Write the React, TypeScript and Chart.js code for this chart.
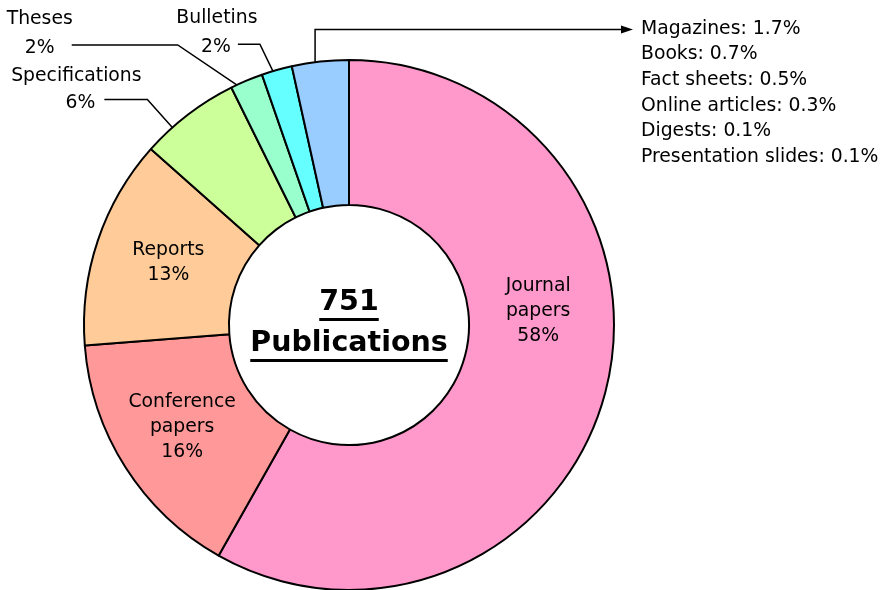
import React, { useEffect, useRef } from "react";
import { Chart, registerables } from "chart.js";

Chart.register(...registerables);

// ---- Data ----
const categories = ["Journal papers", "Conference papers", "Reports", "Specifications", "Theses", "Bulletins", "Other"];
const counts = [437, 117, 96, 46, 15, 14, 26];
const sliceColors = ["#FF99CC", "#FF9999", "#FFCC99", "#CCFF99", "#99FFCC", "#66FFFF", "#99CCFF"];
const otherCategories = ["Magazines", "Books", "Fact sheets", "Online articles", "Digests", "Presentation slides"];
const otherPercents = [1.7, 0.7, 0.5, 0.3, 0.1, 0.1];
const totalText = "751";
const centerTitle = "Publications";

// ---- Label layout (annotation placement, not data) ----
const FONT = '"DejaVu Sans", sans-serif';
const insideLabels = [
  { index: 0, lines: ["Journal", "papers"], frac: 0.41, rf: 0.48 },
  { index: 1, lines: ["Conference", "papers"], frac: 0.52, rf: 0.52 },
  { index: 2, lines: ["Reports"], frac: 0.51, rf: 0.49 },
];
const callouts = [
  { index: 3, name: "Specifications", frac: 0.3, elbow: [-25, -28], hLen: 43, nameOff: [-71, -23], pctOff: [-67, 4] },
  { index: 4, name: "Theses", frac: 0.18, elbow: [-59, -40], hLen: 106, nameOff: [-138, -26], pctOff: [-138, 3] },
  { index: 5, name: "Bulletins", frac: 0.37, elbow: [-13, -27], hLen: 22, nameOff: [-43, -26], pctOff: [-44, 3] },
];
const otherCallout = { index: 6, frac: 0.41, topY: 29.5, arrowX: 633, textX: 641, textY: 29, lineH: 25.6 };

const total = counts.reduce((a, b) => a + b, 0);
const pctOf = (i: number) => Math.round((counts[i] / total) * 100);

const labelPlugin = {
  id: "pubLabels",
  afterDatasetsDraw(chart: any) {
    const ctx = chart.ctx as CanvasRenderingContext2D;
    const arcs = chart.getDatasetMeta(0).data as any[];
    const at = (arc: any, frac: number, r: number) => {
      const a = arc.startAngle + frac * (arc.endAngle - arc.startAngle);
      return [arc.x + Math.cos(a) * r, arc.y + Math.sin(a) * r];
    };
    ctx.save();
    ctx.fillStyle = "#000";
    ctx.strokeStyle = "#000";
    ctx.textAlign = "center";
    ctx.textBaseline = "middle";
    ctx.font = `18.8px ${FONT}`;

    // inside labels
    for (const l of insideLabels) {
      const arc = arcs[l.index];
      const r = arc.innerRadius + l.rf * (arc.outerRadius - arc.innerRadius);
      const [px, py] = at(arc, l.frac, r);
      const lines = [...l.lines, `${pctOf(l.index)}%`];
      const lh = 25;
      const y0 = py - ((lines.length - 1) * lh) / 2;
      lines.forEach((t, k) => ctx.fillText(t, px, y0 + k * lh));
    }

    // callouts with leader lines
    ctx.lineWidth = 1.5;
    for (const c of callouts) {
      const arc = arcs[c.index];
      const [ax, ay] = at(arc, c.frac, arc.outerRadius);
      const ex = ax + c.elbow[0];
      const ey = ay + c.elbow[1];
      ctx.beginPath();
      ctx.moveTo(ax, ay);
      ctx.lineTo(ex, ey);
      ctx.lineTo(ex - c.hLen, ey);
      ctx.stroke();
      ctx.fillText(c.name, ex + c.nameOff[0], ey + c.nameOff[1]);
      ctx.fillText(`${pctOf(c.index)}%`, ex + c.pctOff[0], ey + c.pctOff[1]);
    }

    // "Other" callout with arrow and breakdown list
    {
      const arc = arcs[otherCallout.index];
      const [ax, ay] = at(arc, otherCallout.frac, arc.outerRadius);
      ctx.beginPath();
      ctx.moveTo(ax, ay);
      ctx.lineTo(ax, otherCallout.topY);
      ctx.lineTo(otherCallout.arrowX - 10, otherCallout.topY);
      ctx.stroke();
      ctx.beginPath();
      ctx.moveTo(otherCallout.arrowX, otherCallout.topY);
      ctx.lineTo(otherCallout.arrowX - 12, otherCallout.topY - 4);
      ctx.lineTo(otherCallout.arrowX - 12, otherCallout.topY + 4);
      ctx.closePath();
      ctx.fill();
      ctx.textAlign = "left";
      otherCategories.forEach((n, k) => {
        ctx.fillText(`${n}: ${otherPercents[k].toFixed(1)}%`, otherCallout.textX, otherCallout.textY + k * otherCallout.lineH);
      });
    }

    // center text
    const cx = arcs[0].x;
    const cy = arcs[0].y;
    ctx.textAlign = "center";
    ctx.font = `bold 28.5px ${FONT}`;
    const drawUnder = (t: string, y: number) => {
      ctx.fillText(t, cx, y);
      const w = ctx.measureText(t).width;
      ctx.fillRect(cx - w / 2, y + 15, w, 3);
    };
    drawUnder(totalText, cy - 22);
    drawUnder(centerTitle, cy + 19);
    ctx.restore();
  },
};

export default function App() {
  const ref = useRef<HTMLCanvasElement>(null);
  useEffect(() => {
    document.body.style.margin = "0";
    const chart = new Chart(ref.current!, {
      type: "doughnut",
      data: {
        labels: categories,
        datasets: [
          {
            data: counts,
            backgroundColor: sliceColors,
            borderColor: "#000",
            borderWidth: 2,
          },
        ],
      },
      options: {
        animation: false,
        responsive: false,
        devicePixelRatio: 1,
        radius: 265,
        cutout: "45.3%",
        layout: { padding: { left: 0, right: 187, top: 60, bottom: 0 } },
        plugins: { legend: { display: false }, tooltip: { enabled: false } },
      } as any,
      plugins: [labelPlugin],
    });
    return () => chart.destroy();
  }, []);
  return (
    <div style={{ width: 885, height: 590, background: "#fff" }}>
      <canvas ref={ref} width={885} height={590} />
    </div>
  );
}
